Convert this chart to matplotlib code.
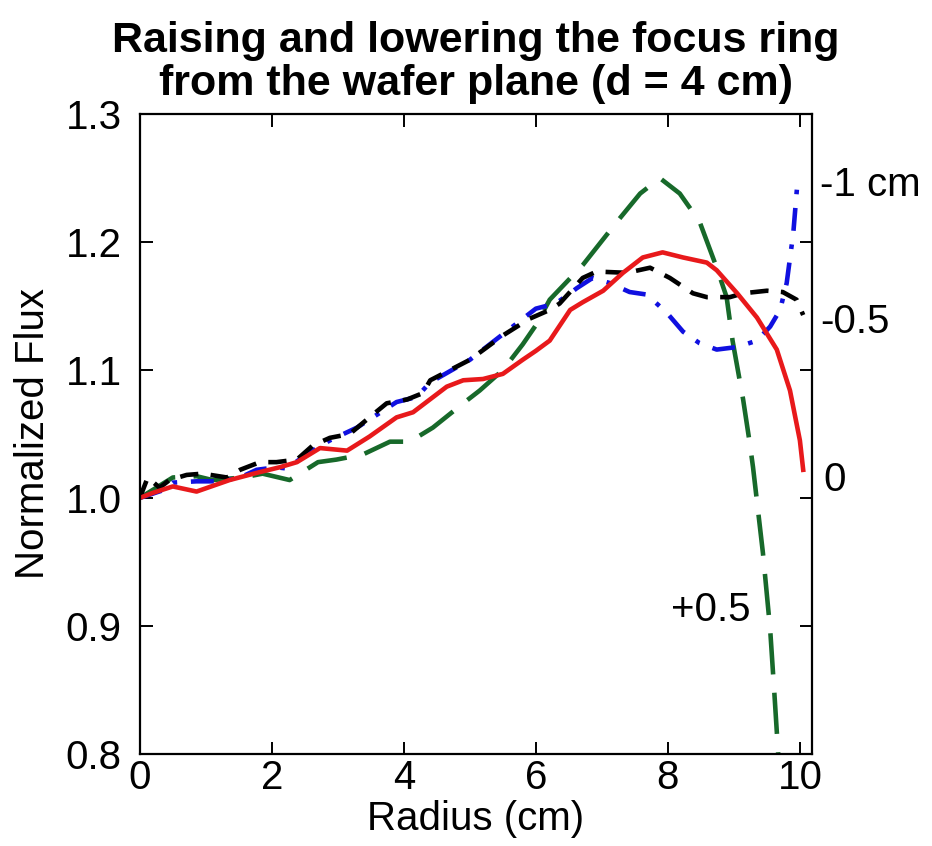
import matplotlib.pyplot as plt
from matplotlib.transforms import blended_transform_factory

plt.rcParams['font.family'] = ['Liberation Sans', 'DejaVu Sans']

# Focus ring at the wafer plane (0)
r_zero = [0.0, 0.2, 0.5, 0.86, 1.36, 1.8, 2.12, 2.38, 2.73, 3.14, 3.48, 3.89, 4.14, 4.65,
          4.9, 5.2, 5.5, 5.8, 6.0, 6.21, 6.52, 6.71, 7.02, 7.32, 7.62, 7.92, 8.23, 8.59,
          8.74, 9.05, 9.35, 9.65, 9.85, 10.0, 10.05]
f_zero = [1.0, 1.004, 1.009, 1.005, 1.014, 1.02, 1.024, 1.028, 1.039, 1.037, 1.048, 1.063,
          1.067, 1.087, 1.092, 1.093, 1.097, 1.108, 1.115, 1.123, 1.147, 1.153, 1.162, 1.176,
          1.188, 1.192, 1.188, 1.184, 1.178, 1.160, 1.141, 1.116, 1.084, 1.045, 1.022]

# Raised 0.5 cm (-0.5)
r_m05 = [0.0, 0.12, 0.3, 0.45, 0.71, 0.95, 1.32, 1.52, 1.82, 2.07, 2.38, 2.62, 2.88, 3.18,
         3.48, 3.74, 4.05, 4.29, 4.4, 5.0, 5.5, 5.9, 6.21, 6.36, 6.71, 6.92, 7.38, 7.73,
         8.03, 8.38, 8.59, 8.94, 9.14, 9.5, 9.74, 9.95, 10.05]
f_m05 = [1.0, 1.016, 1.008, 1.014, 1.018, 1.019, 1.016, 1.022, 1.028, 1.028, 1.030, 1.041,
         1.047, 1.050, 1.063, 1.074, 1.077, 1.082, 1.092, 1.108, 1.127, 1.14, 1.147, 1.152,
         1.172, 1.177, 1.176, 1.180, 1.172, 1.160, 1.157, 1.157, 1.160, 1.162, 1.161, 1.155,
         1.143]

# Raised 1 cm (-1 cm)
r_m1 = [0.0, 0.35, 0.5, 0.86, 1.21, 1.52, 1.77, 2.07, 2.23, 2.47, 2.68, 2.88, 3.29, 3.89,
        4.2, 4.39, 5.0, 5.5, 6.0, 6.3, 6.52, 6.62, 6.86, 7.12, 7.42, 7.68, 7.98, 8.23, 8.48,
        8.74, 9.05, 9.35, 9.55, 9.7, 9.8, 9.9, 9.97]
f_m1 = [1.0, 1.006, 1.012, 1.013, 1.013, 1.016, 1.022, 1.024, 1.023, 1.032, 1.039, 1.045,
        1.055, 1.075, 1.079, 1.09, 1.108, 1.128, 1.148, 1.152, 1.16, 1.164, 1.172, 1.168,
        1.161, 1.159, 1.145, 1.130, 1.121, 1.116, 1.118, 1.123, 1.134, 1.147, 1.168, 1.207,
        1.251]

# Lowered 0.5 cm (+0.5)
r_p05 = [0.0, 0.5, 0.86, 1.1, 1.56, 1.86, 2.27, 2.7, 2.98, 3.38, 3.79, 4.09, 4.44, 4.9,
         5.15, 5.5, 5.8, 6.0, 6.21, 6.71, 7.23, 7.58, 7.88, 8.18, 8.48, 8.74, 8.89, 8.98,
         9.14, 9.24, 9.29, 9.44, 9.55, 9.62, 9.67, 9.7]
f_p05 = [1.0, 1.016, 1.017, 1.014, 1.016, 1.019, 1.014, 1.028, 1.030, 1.034, 1.044, 1.044,
         1.055, 1.074, 1.084, 1.1, 1.12, 1.135, 1.155, 1.182, 1.216, 1.238, 1.25, 1.238,
         1.216, 1.180, 1.157, 1.123, 1.077, 1.043, 1.024, 0.957, 0.897, 0.842, 0.801, 0.77]

x_ticks = [0, 2, 4, 6, 8, 10]
y_ticks = [0.8, 0.9, 1.0, 1.1, 1.2, 1.3]
y_tick_labels = ['0.8', '0.9', '1.0', '1.1', '1.2', '1.3']

fig = plt.figure(figsize=(9.32, 8.46), dpi=100)
ax = fig.add_axes([0.150, 0.109, 0.721, 0.756])

lw = 3.3
ax.plot(r_p05, f_p05, color='#17692a', linewidth=lw, dashes=(9, 4))
ax.plot(r_m1, f_m1, color='#1010e0', linewidth=lw, dashes=(5, 3, 1, 3))
ax.plot(r_m05, f_m05, color='black', linewidth=lw, dashes=(4, 2.7))
ax.plot(r_zero, f_zero, color='#e8191b', linewidth=lw)

ax.set_xlim(0, 10.18)
ax.set_ylim(0.8, 1.3)
ax.set_xticks(x_ticks)
ax.set_yticks(y_ticks)
ax.set_yticklabels(y_tick_labels)
ax.tick_params(direction='in', length=9, width=1.4, labelsize=29, top=True, right=True)
ax.tick_params(axis='y', pad=13)
ax.tick_params(axis='x', pad=4)
for s in ax.spines.values():
    s.set_linewidth(1.6)

ax.set_xlabel('Radius (cm)', fontsize=29, labelpad=2)
ax.set_ylabel('Normalized Flux', fontsize=29, labelpad=10)
ax.set_title('Raising and lowering the focus ring\nfrom the wafer plane (d = 4 cm)',
             fontsize=31, fontweight='bold', pad=14, linespacing=1.1)

# curve labels on the right side
trans = blended_transform_factory(ax.transAxes, ax.transData)
ax.text(1.012, 1.2445, '-1 cm', transform=trans, fontsize=29, va='center', ha='left')
ax.text(1.012, 1.1375, '-0.5', transform=trans, fontsize=29, va='center', ha='left')
ax.text(1.018, 1.014, '0', transform=trans, fontsize=29, va='center', ha='left')
ax.text(8.65, 0.9125, '+0.5', fontsize=29, va='center', ha='center')

fig.savefig('out.png', dpi=100)
